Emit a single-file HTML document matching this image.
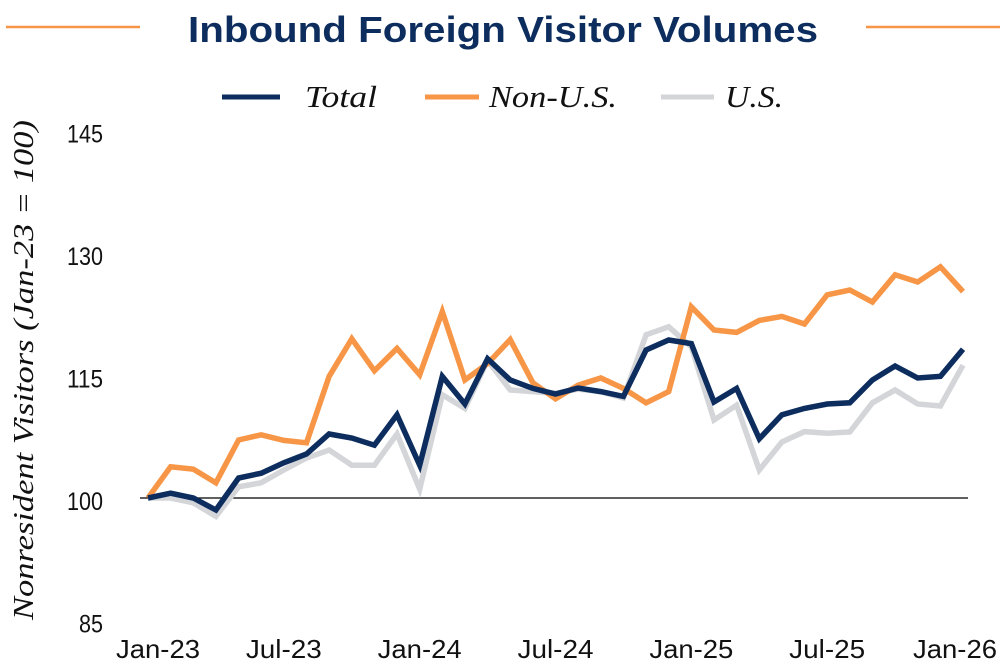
<!DOCTYPE html>
<html><head><meta charset="utf-8"><style>
body{margin:0;background:#fff;width:1000px;height:667px;overflow:hidden}
svg{display:block}
</style></head><body>
<svg id="chart" width="1000" height="667" viewBox="0 0 1000 667">
<line x1="6" y1="27" x2="140" y2="27" stroke="#F79646" stroke-width="2.5"/>
<line x1="866" y1="27" x2="1000" y2="27" stroke="#F79646" stroke-width="2.5"/>
<text x="503" y="42" text-anchor="middle" font-family="'Liberation Sans',sans-serif" font-weight="bold" font-size="36" fill="#0C2D5E" textLength="630" lengthAdjust="spacingAndGlyphs">Inbound Foreign Visitor Volumes</text>
<g>
<g><line x1="222" y1="97" x2="280" y2="97" stroke="#0C2D5E" stroke-width="5"/><text x="305" y="107" font-family="'Liberation Serif',serif" font-style="italic" font-size="31" fill="#111" textLength="72" lengthAdjust="spacingAndGlyphs">Total</text></g>
<g><line x1="425" y1="97" x2="479" y2="97" stroke="#F79646" stroke-width="5"/><text x="489" y="107" font-family="'Liberation Serif',serif" font-style="italic" font-size="31" fill="#111" textLength="128" lengthAdjust="spacingAndGlyphs">Non-U.S.</text></g>
<g><line x1="661" y1="97" x2="714" y2="97" stroke="#D3D5D8" stroke-width="5"/><text x="725" y="107" font-family="'Liberation Serif',serif" font-style="italic" font-size="31" fill="#111" textLength="58" lengthAdjust="spacingAndGlyphs">U.S.</text></g>
</g>
<text transform="translate(33,370) rotate(-90)" text-anchor="middle" font-family="'Liberation Serif',serif" font-style="italic" font-size="29" fill="#111" textLength="500" lengthAdjust="spacingAndGlyphs">Nonresident Visitors (Jan-23 = 100)</text>
<g id="yticks"></g>
<g id="xticks"></g>
<line x1="140" y1="498" x2="968" y2="498" stroke="#000" stroke-width="1.2"/>
<g id="series"></g>
</svg>
<script>
const yTickValues=[145,130,115,100,85];
const xTickLabels=["Jan-23","Jul-23","Jan-24","Jul-24","Jan-25","Jul-25","Jan-26"];
const xTickIndex=[0,6,12,18,24,30,36];
const totalSeries=[100,100.6,100,98.5,102.5,103.1,104.4,105.5,108,107.5,106.6,110.4,104.1,115.2,111.75,117.4,114.75,113.7,113,113.75,113.3,112.7,118.5,119.75,119.3,112,113.7,107.4,110.4,111.2,111.75,111.9,114.75,116.5,115,115.2,118.6];
const nonUSSeries=[100,103.9,103.6,101.9,107.25,107.9,107.2,106.9,115.2,119.9,115.9,118.7,115.4,123.3,114.75,116.8,119.8,114.4,112.4,114.1,115,113.7,111.9,113.3,123.9,121,120.7,122.2,122.7,121.75,125.4,126,124.5,127.9,127,128.9,125.8];
const usSeries=[100,100,99.4,97.7,101.4,101.9,103.5,105,106,104.1,104.1,108,101.1,112.9,111.2,117.2,113.5,113.3,113.1,113.6,113.3,112.5,120.4,121.4,118.9,109.75,111.6,103.5,107,108.3,108.1,108.25,111.9,113.5,111.75,111.5,116.6];
const NS='http://www.w3.org/2000/svg';
const x=i=>148+i*(963-148)/36;
const y=v=>498-(v-100)*8;
const yLab=v=>510-(v-100)*8.17;
const yt=document.getElementById('yticks');
yTickValues.forEach(v=>{
 const t=document.createElementNS(NS,'text');
 t.setAttribute('x',103);t.setAttribute('y',yLab(v));
 t.setAttribute('text-anchor','end');
 t.setAttribute('font-family',"'Liberation Sans',sans-serif");
 t.setAttribute('font-size','25');t.setAttribute('fill','#111');
 t.setAttribute('textLength',String(v).length*12);
 t.setAttribute('lengthAdjust','spacingAndGlyphs');
 t.textContent=v;
 
 
 yt.appendChild(t);
});
const xt=document.getElementById('xticks');
xTickLabels.forEach((l,k)=>{
 const t=document.createElementNS(NS,'text');
 let cx=x(xTickIndex[k]);
 if(k===0)cx+=10; if(k===xTickLabels.length-1)cx-=8;
 t.setAttribute('x',cx);t.setAttribute('y',658);
 t.setAttribute('text-anchor','middle');
 t.setAttribute('font-family',"'Liberation Sans',sans-serif");
 t.setAttribute('font-size','26');t.setAttribute('fill','#111');
 t.setAttribute('textLength',l.startsWith('Jan')?84:76);
 t.setAttribute('lengthAdjust','spacingAndGlyphs');
 t.textContent=l;
 
 
 xt.appendChild(t);
});
const sg=document.getElementById('series');
function line(data,color,name){
 const p=document.createElementNS(NS,'polyline');
 p.setAttribute('points',data.map((v,i)=>x(i).toFixed(1)+','+y(v).toFixed(1)).join(' '));
 p.setAttribute('fill','none');p.setAttribute('stroke',color);
 p.setAttribute('stroke-width','5.5');p.setAttribute('stroke-linejoin','miter');
 
 
 sg.appendChild(p);
}
line(usSeries,'#D3D5D8','us-line');
line(nonUSSeries,'#F79646','non-us-line');
line(totalSeries,'#0C2D5E','total-line');
</script>
</body></html>
